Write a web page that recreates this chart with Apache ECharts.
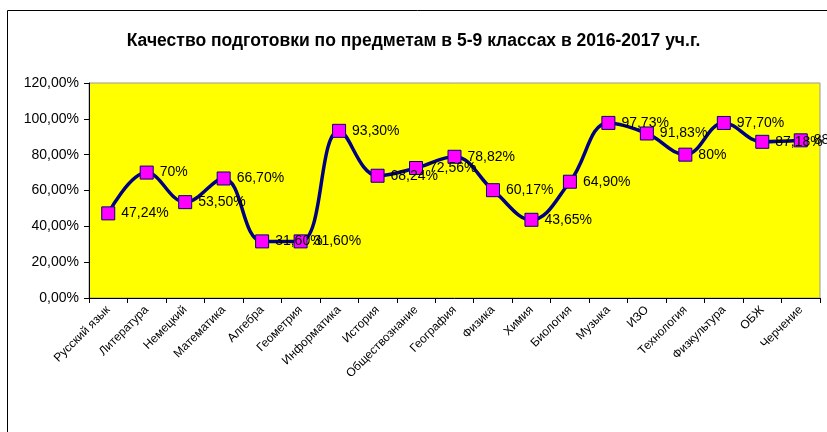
<!DOCTYPE html>
<html>
<head>
<meta charset="utf-8">
<script src="https://cdn.jsdelivr.net/npm/echarts@6/dist/echarts.min.js"></script>
<style>
  html, body { margin: 0; padding: 0; background: #fff; }
  #chart { width: 827px; height: 432px; }
</style>
</head>
<body>
<div id="chart"></div>
<script>
// subjects (axis labels are barely readable in the source, approximated)
const subjects = [
  'Русский язык', 'Литература', 'Немецкий', 'Математика', 'Алгебра',
  'Геометрия', 'Информатика', 'История', 'Обществознание', 'География',
  'Физика', 'Химия', 'Биология', 'Музыка', 'ИЗО',
  'Технология', 'Физкультура', 'ОБЖ', 'Черчение'
];
// quality, %
const quality = [
  47.24, 70, 53.50, 66.70, 31.60, 31.60, 93.30, 68.24, 72.56, 78.82,
  60.17, 43.65, 64.90, 97.73, 91.83, 80, 97.70, 87.18, 88
];
const yTicks = [0, 20, 40, 60, 80, 100, 120];

const FONT = 'Arial, "Liberation Sans", sans-serif';

function pct(v, digits) {
  return v.toFixed(digits).replace('.', ',') + '%';
}

const chart = echarts.init(document.getElementById('chart'));

const option = {
  animation: false,
  textStyle: { fontFamily: FONT },
  title: {
    text: 'Качество подготовки по предметам в 5-9 классах в 2016-2017 уч.г.',
    left: 'center',
    top: 27,
    textStyle: { fontSize: 17.5, fontWeight: 'bold', color: '#000', fontFamily: FONT }
  },
  graphic: [{
    type: 'rect',
    shape: { x: 7.5, y: 10.5, width: 830, height: 440 },
    style: { fill: 'none', stroke: '#000', lineWidth: 1 },
    silent: true
  }],
  grid: {
    left: 89, right: 7, top: 83, bottom: 134,
    show: true,
    backgroundColor: '#FFFF00',
    borderColor: '#999',
    borderWidth: 1
  },
  xAxis: {
    type: 'category',
    data: subjects,
    boundaryGap: true,
    axisLine: { lineStyle: { color: '#000', width: 1 } },
    axisTick: { show: true, alignWithLabel: false, length: 5, lineStyle: { color: '#000' } },
    axisLabel: { rotate: 45, fontSize: 12, color: '#000', interval: 0, margin: 10, fontFamily: FONT }
  },
  yAxis: {
    type: 'value',
    min: yTicks[0],
    max: yTicks[yTicks.length - 1],
    interval: 20,
    axisLine: { show: true, lineStyle: { color: '#000', width: 1 } },
    axisTick: { show: true, length: 5, lineStyle: { color: '#000' } },
    splitLine: { show: false },
    axisLabel: {
      fontSize: 14, color: '#000', margin: 10, fontFamily: FONT,
      formatter: v => pct(v, 2)
    }
  },
  series: [{
    type: 'line',
    data: quality,
    smooth: 0.4,
    symbol: 'rect',
    symbolSize: 13,
    lineStyle: { color: '#000080', width: 3.5 },
    itemStyle: { color: '#FF00FF', borderColor: '#000080', borderWidth: 1 },
    label: {
      show: true,
      position: 'right',
      distance: 6,
      fontSize: 14,
      color: '#000',
      fontFamily: FONT,
      formatter: p => Number.isInteger(p.value) ? p.value + '%' : pct(p.value, 2)
    }
  }]
};

chart.setOption(option);
</script>
</body>
</html>
